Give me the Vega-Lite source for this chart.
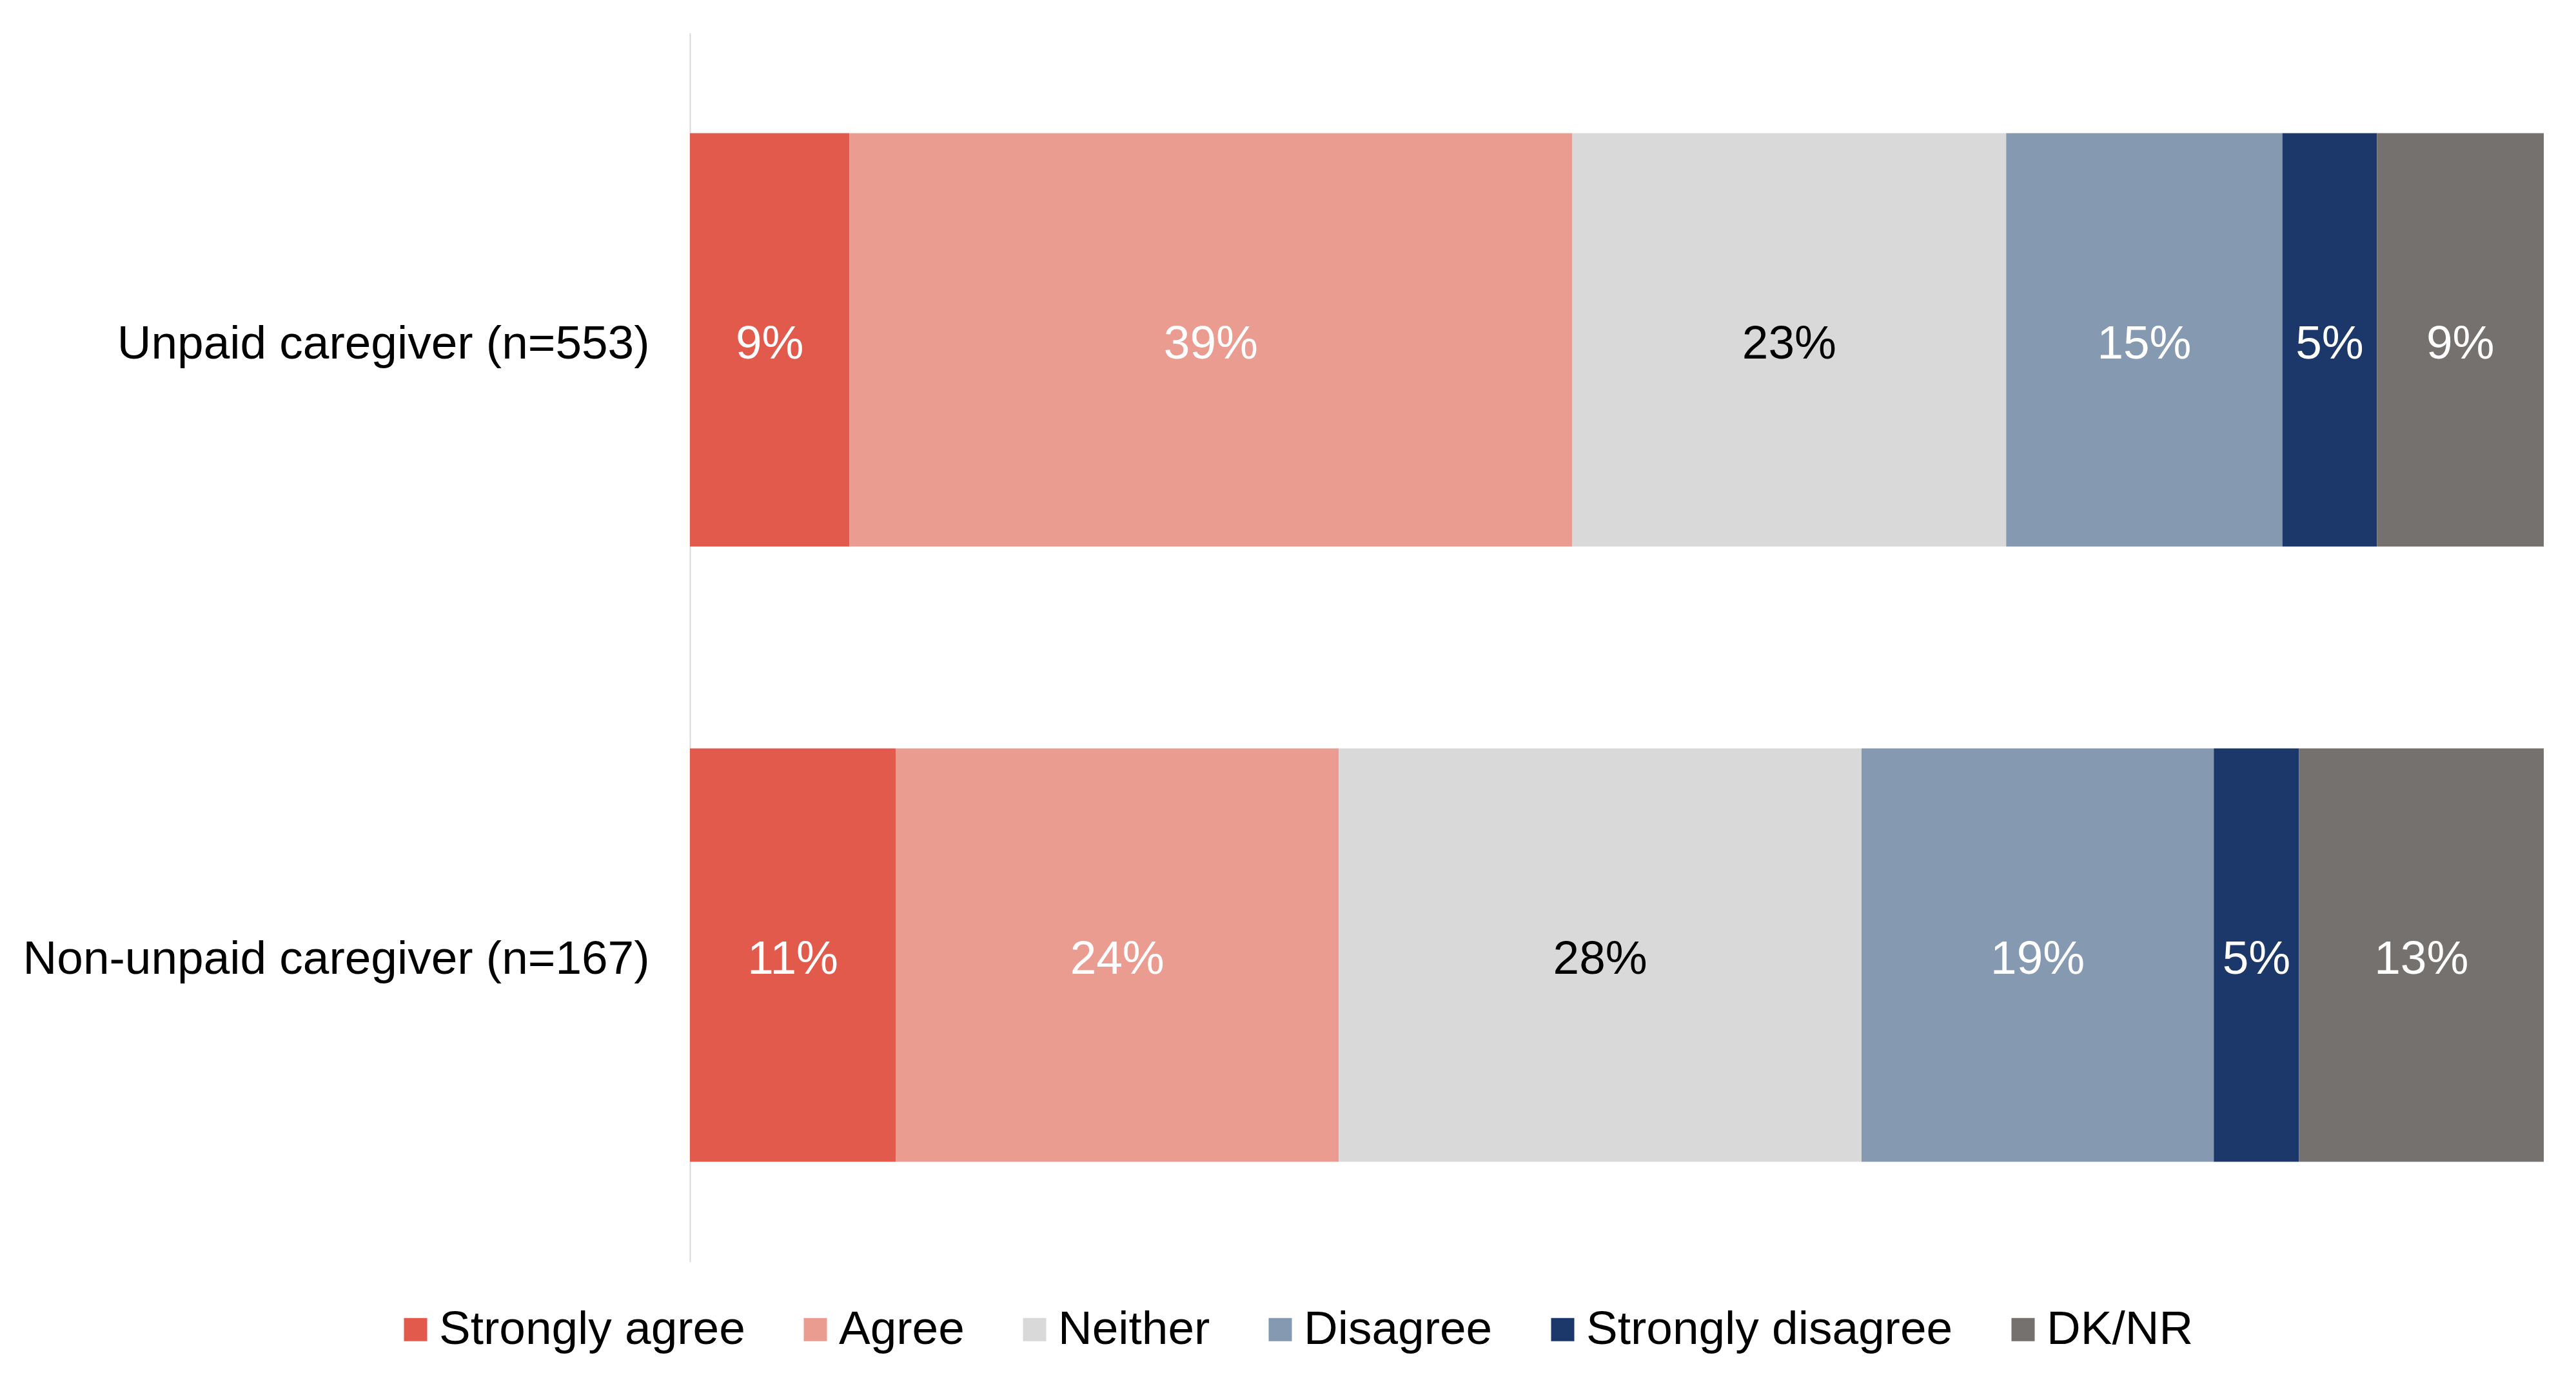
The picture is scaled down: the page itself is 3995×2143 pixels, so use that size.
{
  "$schema": "https://vega.github.io/schema/vega-lite/v6.json",
  "autosize": "none",
  "width": 2875,
  "height": 1906,
  "padding": {"left": 1070, "top": 51, "right": 50, "bottom": 186},
  "background": "white",
  "config": {"view": {"stroke": null}, "font": "Liberation Sans"},
  "data": {
    "values": [
      {"group": "Unpaid caregiver (n=553)", "response": "Strongly agree", "idx": 1, "value": 0.086},
      {"group": "Unpaid caregiver (n=553)", "response": "Agree", "idx": 2, "value": 0.39},
      {"group": "Unpaid caregiver (n=553)", "response": "Neither", "idx": 3, "value": 0.234},
      {"group": "Unpaid caregiver (n=553)", "response": "Disagree", "idx": 4, "value": 0.149},
      {"group": "Unpaid caregiver (n=553)", "response": "Strongly disagree", "idx": 5, "value": 0.051},
      {"group": "Unpaid caregiver (n=553)", "response": "DK/NR", "idx": 6, "value": 0.09},
      {"group": "Non-unpaid caregiver (n=167)", "response": "Strongly agree", "idx": 1, "value": 0.111},
      {"group": "Non-unpaid caregiver (n=167)", "response": "Agree", "idx": 2, "value": 0.239},
      {"group": "Non-unpaid caregiver (n=167)", "response": "Neither", "idx": 3, "value": 0.282},
      {"group": "Non-unpaid caregiver (n=167)", "response": "Disagree", "idx": 4, "value": 0.19},
      {"group": "Non-unpaid caregiver (n=167)", "response": "Strongly disagree", "idx": 5, "value": 0.046},
      {"group": "Non-unpaid caregiver (n=167)", "response": "DK/NR", "idx": 6, "value": 0.132}
    ]
  },
  "transform": [
    {"stack": "value", "groupby": ["group"], "sort": [{"field": "idx", "order": "ascending"}], "as": ["x0", "x1"]}
  ],
  "layer": [
    {
      "mark": {"type": "bar"},
      "encoding": {
        "y": {
          "field": "group", "type": "nominal",
          "sort": ["Unpaid caregiver (n=553)", "Non-unpaid caregiver (n=167)"],
          "scale": {"paddingInner": 0.328, "paddingOuter": 0.163},
          "axis": {
            "title": null, "domain": true, "domainColor": "#d9d9d9", "domainWidth": 2,
            "ticks": false, "labelFontSize": 73, "labelColor": "black",
            "labelPadding": 63, "labelOffset": 7, "labelLimit": 2000, "grid": false
          }
        },
        "x": {"field": "x0", "type": "quantitative", "scale": {"domain": [0, 1]}, "axis": null},
        "x2": {"field": "x1"},
        "color": {
          "field": "response", "type": "nominal",
          "scale": {
            "domain": ["Strongly agree", "Agree", "Neither", "Disagree", "Strongly disagree", "DK/NR"],
            "range": ["#E15A4B", "#EB9C91", "#D9D9D9", "#8599B0", "#1C3769", "#75716F"]
          },
          "legend": {
            "orient": "none", "legendX": -462, "legendY": 1974, "direction": "horizontal",
            "title": null, "symbolType": "square", "symbolSize": 1296, "symbolStrokeWidth": 0,
            "labelFontSize": 73, "labelColor": "black", "labelOffset": 0, "columnPadding": 72,
            "padding": 0, "labelLimit": 2000
          }
        }
      }
    },
    {
      "transform": [
        {"fold": ["x0", "x1"], "as": ["edgeName", "edge"]},
        {"aggregate": [{"op": "mean", "field": "edge", "as": "mid"}], "groupby": ["group", "response", "value"]}
      ],
      "mark": {"type": "text", "fontSize": 73, "baseline": "middle", "align": "center", "dy": 7},
      "encoding": {
        "y": {"field": "group", "type": "nominal", "sort": ["Unpaid caregiver (n=553)", "Non-unpaid caregiver (n=167)"]},
        "x": {"field": "mid", "type": "quantitative"},
        "text": {"field": "value", "type": "quantitative", "format": ".0%"},
        "color": {"condition": {"test": "datum.response === 'Neither'", "value": "black"}, "value": "white"}
      }
    }
  ]
}
